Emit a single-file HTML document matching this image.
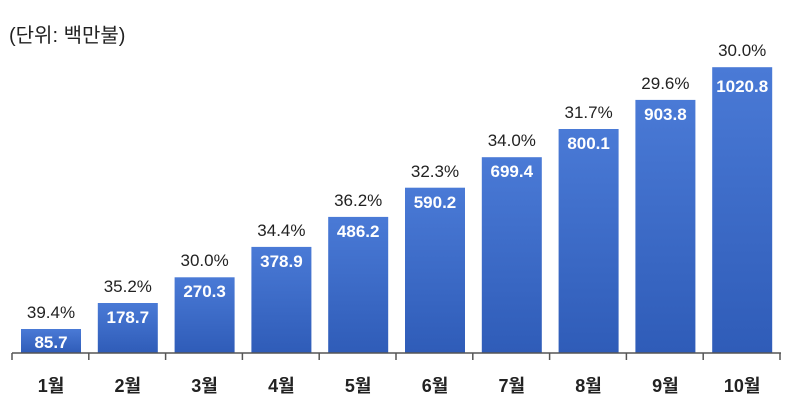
<!DOCTYPE html>
<html><head><meta charset="utf-8"><style>
html,body{margin:0;padding:0;background:#fff;}
svg{display:block;}
text{font-family:"Liberation Sans","Noto Sans CJK KR",sans-serif;}
.v{font-size:17px;font-weight:bold;fill:#fff;text-anchor:middle;}
.p{font-size:17px;fill:#222;text-anchor:middle;}
.c{font-size:18px;font-weight:bold;fill:#222;text-anchor:middle;}
</style></head><body>
<svg width="800" height="416" xmlns="http://www.w3.org/2000/svg">
<defs><linearGradient id="g" x1="0" y1="0" x2="0" y2="1">
<stop offset="0" stop-color="#4a7ad6"/><stop offset="1" stop-color="#2f5cb8"/></linearGradient></defs>
<text x="9" y="42" font-size="20" fill="#222">(단위: 백만불)</text>
<g fill="url(#g)">
<rect x="21" y="329" width="60" height="24"/>
<rect x="97.8" y="303" width="60" height="50"/>
<rect x="174.6" y="277.3" width="60" height="75.7"/>
<rect x="251.4" y="246.9" width="60" height="106.1"/>
<rect x="328.2" y="216.9" width="60" height="136.1"/>
<rect x="405" y="187.7" width="60" height="165.3"/>
<rect x="481.8" y="157.2" width="60" height="195.8"/>
<rect x="558.6" y="129" width="60" height="224"/>
<rect x="635.4" y="99.9" width="60" height="253.1"/>
<rect x="712.2" y="67.2" width="60" height="285.8"/>
</g>
<text class="v" x="51" y="348">85.7</text>
<text class="v" x="127.8" y="323">178.7</text>
<text class="v" x="204.6" y="297">270.3</text>
<text class="v" x="281.4" y="267">378.9</text>
<text class="v" x="358.2" y="237">486.2</text>
<text class="v" x="435" y="208">590.2</text>
<text class="v" x="511.8" y="177">699.4</text>
<text class="v" x="588.6" y="149">800.1</text>
<text class="v" x="665.4" y="120">903.8</text>
<text class="v" x="742.2" y="92">1020.8</text>
<text class="p" x="51" y="318">39.4%</text>
<text class="p" x="127.8" y="292">35.2%</text>
<text class="p" x="204.6" y="266">30.0%</text>
<text class="p" x="281.4" y="236">34.4%</text>
<text class="p" x="358.2" y="206">36.2%</text>
<text class="p" x="435" y="177">32.3%</text>
<text class="p" x="511.8" y="146">34.0%</text>
<text class="p" x="588.6" y="118">31.7%</text>
<text class="p" x="665.4" y="89">29.6%</text>
<text class="p" x="742.2" y="56">30.0%</text>
<text class="c" x="51" y="392">1월</text>
<text class="c" x="127.8" y="392">2월</text>
<text class="c" x="204.6" y="392">3월</text>
<text class="c" x="281.4" y="392">4월</text>
<text class="c" x="358.2" y="392">5월</text>
<text class="c" x="435" y="392">6월</text>
<text class="c" x="511.8" y="392">7월</text>
<text class="c" x="588.6" y="392">8월</text>
<text class="c" x="665.4" y="392">9월</text>
<text class="c" x="742.2" y="392">10월</text>
<line x1="12" y1="353" x2="781" y2="353" stroke="#555" stroke-width="1.5"/>
<g stroke="#555" stroke-width="1.5">
<line x1="12" y1="353" x2="12" y2="360"/><line x1="88.8" y1="353" x2="88.8" y2="360"/><line x1="165.6" y1="353" x2="165.6" y2="360"/><line x1="242.4" y1="353" x2="242.4" y2="360"/><line x1="319.2" y1="353" x2="319.2" y2="360"/><line x1="396" y1="353" x2="396" y2="360"/><line x1="472.8" y1="353" x2="472.8" y2="360"/><line x1="549.6" y1="353" x2="549.6" y2="360"/><line x1="626.4" y1="353" x2="626.4" y2="360"/><line x1="703.2" y1="353" x2="703.2" y2="360"/><line x1="780" y1="353" x2="780" y2="360"/>
</g>
</svg>
</body></html>
